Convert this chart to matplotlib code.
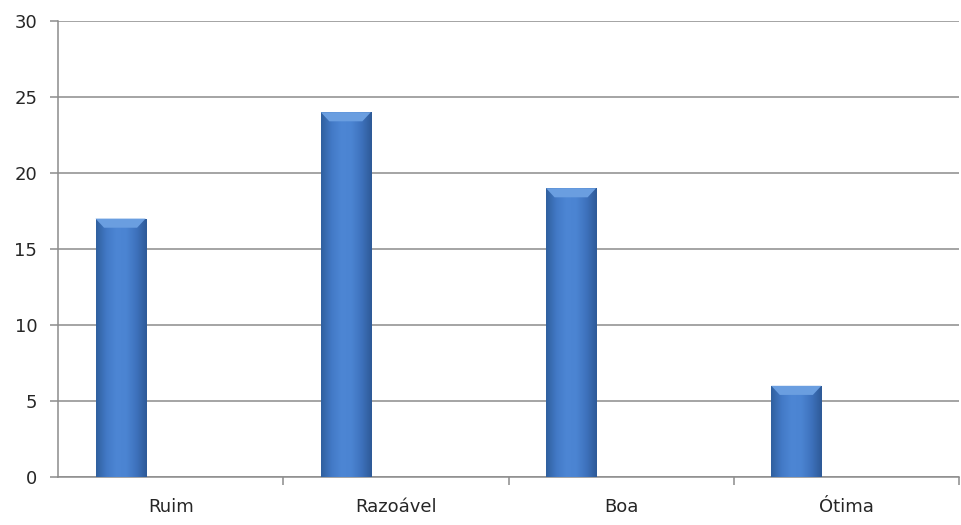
import matplotlib.pyplot as plt
import numpy as np
from matplotlib.colors import LinearSegmentedColormap
from matplotlib.patches import Polygon

plt.rcParams['font.family'] = ['DejaVu Sans']

categories = ["Ruim", "Razoável", "Boa", "Ótima"]
values = [17, 24, 19, 6]
yticks = [0, 5, 10, 15, 20, 25, 30]

fig = plt.figure(figsize=(9.61, 5.25), dpi=100)
ax = fig.add_axes([58 / 961, 48 / 525, 901 / 961, 456 / 525])

x = np.arange(len(categories))
width = 1 / 4.5
pos = x - width

# horizontal shading across each bar (darker edges, lighter middle)
shade = LinearSegmentedColormap.from_list(
    "shade", ["#30609f", "#4279c6", "#4d86d4", "#4b84d2", "#3e72bd", "#2e5a98"])
grad = np.linspace(0, 1, 64).reshape(1, -1)

bars = ax.bar(pos, values, width=width, color="#3f76c4", zorder=2)
for b in bars:
    x0, w, h = b.get_x(), b.get_width(), b.get_height()
    im = ax.imshow(grad, cmap=shade, aspect="auto", extent=[x0, x0 + w, 0, h],
                   zorder=3, interpolation="bicubic")
    im.set_clip_path(b)
    # bevel on top of bar
    bh = 0.6
    ins = w * 0.17
    ax.add_patch(Polygon([[x0, h], [x0 + w, h], [x0 + w - ins, h - bh], [x0 + ins, h - bh]],
                         closed=True, facecolor="#6a9ee0", edgecolor="none", zorder=4))

ax.set_xlim(-0.5, len(categories) - 0.5)
ax.set_ylim(0, 30)
ax.set_yticks(yticks)
ax.yaxis.grid(True, color="#8c8c8c", linewidth=1.1, zorder=0)
ax.set_axisbelow(True)

ax.set_xticks(np.arange(len(categories)) + 0.5)
ax.set_xticklabels([])
ax.set_xticks(x, minor=True)
ax.set_xticklabels(categories, minor=True)
ax.tick_params(axis="x", which="major", length=6, width=1.1, color="#8c8c8c", direction="out")
ax.tick_params(axis="x", which="minor", length=0, pad=15, labelsize=13, labelcolor="#262626")
ax.tick_params(axis="y", length=6, width=1.1, color="#8c8c8c", direction="out",
               pad=9, labelsize=13, labelcolor="#262626")

for s in ["top", "right"]:
    ax.spines[s].set_visible(False)
for s in ["left", "bottom"]:
    ax.spines[s].set_color("#8c8c8c")
    ax.spines[s].set_linewidth(1.1)

fig.savefig("out.png", dpi=100)
